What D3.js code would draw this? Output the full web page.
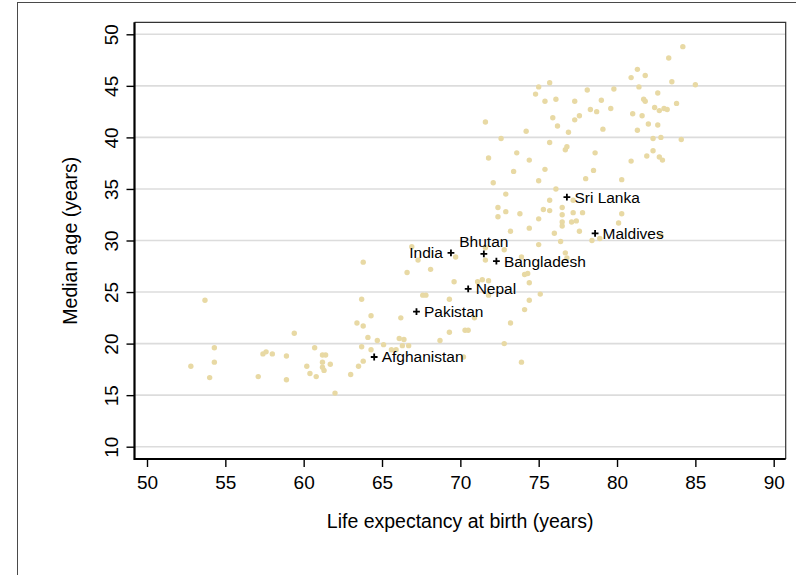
<!DOCTYPE html>
<html>
<head>
<meta charset="utf-8">
<script src="https://cdn.jsdelivr.net/npm/d3@7"></script>
<style>
  html, body { margin: 0; padding: 0; background: #fff; }
  svg { display: block; }
  text { font-family: "Liberation Sans", Arial, sans-serif; fill: #000; }
</style>
</head>
<body>
<svg id="chart" width="796" height="575"></svg>
<script>
// Countries of the world: life expectancy at birth vs. median age
const lifeExpectancy = [
  53.7, 59.4, 54.3, 52.8, 54.3, 54.0, 57.4, 57.6, 58.0, 58.9, 57.1, 58.9,
  60.7, 60.2, 60.4, 60.8, 61.2, 61.4, 61.2, 61.2, 61.3, 61.7, 62.0,
  66.9, 67.3, 69.7, 63.8, 66.6, 68.1, 69.6, 71.1, 71.4, 71.8, 71.8, 71.6,
  71.6, 72.8, 73.2, 73.9, 74.1, 74.3, 74.4, 74.4, 74.1, 73.2, 72.8, 73.9,
  63.7, 64.3, 63.4, 63.8, 64.1, 64.7, 65.1, 63.7, 64.3, 63.8, 63.5, 65.6,
  66.1, 66.4, 66.3, 66.7, 65.9, 66.2, 67.6, 67.8, 69.3, 69.3, 70.3, 70.5,
  68.7, 70.9, 70.2, 63.0,
  76.7, 76.8, 75.1,
  71.6, 72.6, 71.8, 73.6, 74.4, 73.4, 72.1, 75.4, 75.0, 75.7, 74.2, 75.9,
  76.2, 76.9, 77.3, 77.6, 78.7, 81.0, 81.6, 82.0, 79.1, 81.3, 76.8, 76.7,
  78.6, 78.5, 80.9, 81.9, 78.0, 80.3, 76.1, 72.9, 75.7, 72.4, 72.9, 72.4,
  73.8, 75.0, 75.3, 75.7, 76.5, 77.2, 77.8, 76.5, 76.5, 77.1, 77.4, 76.5,
  80.3, 80.1, 77.6, 76.0, 74.4, 76.4, 75.0, 78.4, 78.9, 77.2,
  84.2, 83.3, 81.3, 80.9, 81.8, 83.5, 85.0, 81.4, 82.6, 81.7, 81.8, 83.8,
  82.4, 82.7, 83.0, 83.2, 79.8, 78.1, 79.0, 79.6, 78.3, 77.3, 76.1, 75.7,
  75.0, 74.8, 75.4,
  82.6, 82.3, 82.8, 84.1, 82.3, 82.7, 82.9, 82.8
];
const medianAge = [
  24.2, 21.0, 19.6, 17.8, 18.2, 16.7, 19.0, 19.2, 19.0, 18.8, 16.8, 16.5,
  19.6, 17.8, 17.1, 16.8, 18.9, 18.9, 18.2, 17.7, 17.4, 18.0, 15.2,
  29.4, 28.1, 28.4, 27.9, 26.9, 27.2, 26.0, 26.0, 26.2, 26.1, 24.7, 29.3,
  28.1, 29.1, 30.9, 28.4, 26.7, 26.8, 25.9, 24.2, 23.3, 22.0, 20.0, 18.2,
  24.3, 22.7, 22.0, 21.7, 20.6, 20.3, 19.9, 19.7, 19.4, 18.3, 17.8, 19.4,
  20.5, 20.4, 19.8, 19.8, 19.4, 22.5, 24.7, 24.7, 24.3, 21.1, 21.3, 21.3,
  20.3, 22.5, 18.7, 17.0,
  28.8, 28.3, 24.8,
  41.5, 39.9, 38.0, 38.5, 37.8, 36.7, 35.6, 36.9, 35.8, 39.5, 40.6, 41.9,
  41.1, 40.5, 41.7, 42.1, 42.5, 42.3, 42.1, 41.3, 40.8, 40.7, 39.1, 38.8,
  38.5, 36.8, 37.7, 38.2, 36.0, 35.9, 35.0, 34.5, 33.9, 33.2, 32.8, 32.3,
  32.6, 32.1, 33.0, 32.9, 33.2, 32.7, 32.7, 32.5, 31.8, 31.8, 31.9, 31.4,
  32.6, 31.7, 30.9, 30.7, 31.2, 29.9, 29.6, 30.0, 30.2, 33.9,
  48.8, 47.7, 46.6, 45.8, 46.0, 45.4, 45.1, 44.9, 44.3, 43.7, 43.5, 43.3,
  42.9, 42.6, 42.8, 42.7, 44.7, 44.6, 43.6, 42.8, 42.7, 43.5, 43.7, 45.3,
  44.9, 44.2, 43.5,
  41.2, 39.9, 40.0, 39.8, 38.7, 38.1, 37.8, 30.5
];

// South Asian countries, highlighted and labelled
const southAsia = ["Afghanistan", "Bangladesh", "Bhutan", "India", "Maldives", "Nepal", "Pakistan", "Sri Lanka"];
const southAsiaLifeExp = [64.5, 72.3, 71.5, 69.4, 78.6, 70.5, 67.2, 76.8];
const southAsiaMedianAge = [18.7, 28.0, 28.7, 28.8, 30.7, 25.3, 23.1, 34.2];

// Tick values for both axes
const xTicks = [50, 55, 60, 65, 70, 75, 80, 85, 90];
const yTicks = [10, 15, 20, 25, 30, 35, 40, 45, 50];

// Where each label sits relative to its marker (clock position)
const labelClock = { "India": 9, "Bhutan": 12 };

const svg = d3.select("#chart");

// Plot region
const plot = { left: 134.5, right: 785.7, top: 22.3, bottom: 459 };

const x = d3.scaleLinear().domain([50, 90]).range([147, 773.7]);
const y = d3.scaleLinear().domain([10, 50]).range([446.7, 34.3]);

// Outer graph frame
svg.append("rect")
  .attr("x", 17.5).attr("y", 2.5)
  .attr("width", 900).attr("height", 700)
  .attr("fill", "none")
  .attr("stroke", "#4a4a4a")
  .attr("stroke-width", 1);

// Horizontal grid lines
svg.append("g")
  .selectAll("line")
  .data(yTicks)
  .join("line")
  .attr("x1", plot.left).attr("x2", plot.right)
  .attr("y1", d => y(d)).attr("y2", d => y(d))
  .attr("stroke", "#dcdcdc")
  .attr("stroke-width", 1.6);

// Plot region outline (top and right)
svg.append("path")
  .attr("d", `M${plot.left},${plot.top}H${plot.right}V${plot.bottom}`)
  .attr("fill", "none")
  .attr("stroke", "#333")
  .attr("stroke-width", 1.2);

// All countries
const points = lifeExpectancy.map((v, i) => ({ le: v, age: medianAge[i] }));
svg.append("g")
  .selectAll("circle")
  .data(points)
  .join("circle")
  .attr("cx", d => x(d.le))
  .attr("cy", d => y(d.age))
  .attr("r", 2.7)
  .attr("fill", "#e8d9a4");

// X axis
const xAxis = svg.append("g")
  .attr("transform", `translate(0,${plot.bottom})`)
  .call(d3.axisBottom(x).tickValues(xTicks).tickSize(8).tickSizeOuter(0));
xAxis.select(".domain").remove();
xAxis.selectAll(".tick line").attr("stroke", "#000").attr("stroke-width", 1.4);
xAxis.selectAll(".tick text")
  .attr("y", 30).attr("dy", 0)
  .style("font-size", "19px")
  .style("font-family", "'Liberation Sans', Arial, sans-serif");

// Y axis
const yAxis = svg.append("g")
  .attr("transform", `translate(${plot.left},0)`)
  .call(d3.axisLeft(y).tickValues(yTicks).tickSize(8).tickSizeOuter(0));
yAxis.select(".domain").remove();
yAxis.selectAll(".tick line").attr("stroke", "#000").attr("stroke-width", 1.4);
yAxis.selectAll(".tick text")
  .attr("x", 0).attr("dy", 0)
  .attr("text-anchor", "middle")
  .attr("transform", "translate(-16.5,0) rotate(-90)")
  .style("font-size", "19px")
  .style("font-family", "'Liberation Sans', Arial, sans-serif");

// Axis lines
svg.append("path")
  .attr("d", `M${plot.left},${plot.top}V${plot.bottom}H${plot.right}`)
  .attr("fill", "none")
  .attr("stroke", "#000")
  .attr("stroke-width", 2.2);

// Highlighted countries
const sa = southAsia.map((name, i) => ({ name, le: southAsiaLifeExp[i], age: southAsiaMedianAge[i] }));
const saG = svg.append("g");
saG.selectAll("path")
  .data(sa)
  .join("path")
  .attr("d", d => {
    const cx = x(d.le), cy = y(d.age), h = 3.4;
    return `M${cx - h},${cy}H${cx + h}M${cx},${cy - h}V${cy + h}`;
  })
  .attr("stroke", "#000")
  .attr("stroke-width", 1.8);

saG.selectAll("text")
  .data(sa)
  .join("text")
  .attr("x", d => {
    const clock = labelClock[d.name] || 3;
    if (clock === 9) return x(d.le) - 8;
    if (clock === 12) return x(d.le);
    return x(d.le) + 7.5;
  })
  .attr("y", d => {
    const clock = labelClock[d.name] || 3;
    if (clock === 12) return y(d.age) - 7;
    return y(d.age);
  })
  .attr("dy", d => (labelClock[d.name] === 12 ? "0" : "0.35em"))
  .attr("text-anchor", d => {
    const clock = labelClock[d.name] || 3;
    return clock === 9 ? "end" : clock === 12 ? "middle" : "start";
  })
  .style("font-size", "15.5px")
  .text(d => d.name);

// Axis titles
svg.append("text")
  .attr("x", (plot.left + plot.right) / 2)
  .attr("y", 528)
  .attr("text-anchor", "middle")
  .style("font-size", "19.5px")
  .text("Life expectancy at birth (years)");

svg.append("text")
  .attr("transform", `translate(77,${(plot.top + plot.bottom) / 2}) rotate(-90)`)
  .attr("text-anchor", "middle")
  .style("font-size", "19.5px")
  .text("Median age (years)");
</script>
</body>
</html>
